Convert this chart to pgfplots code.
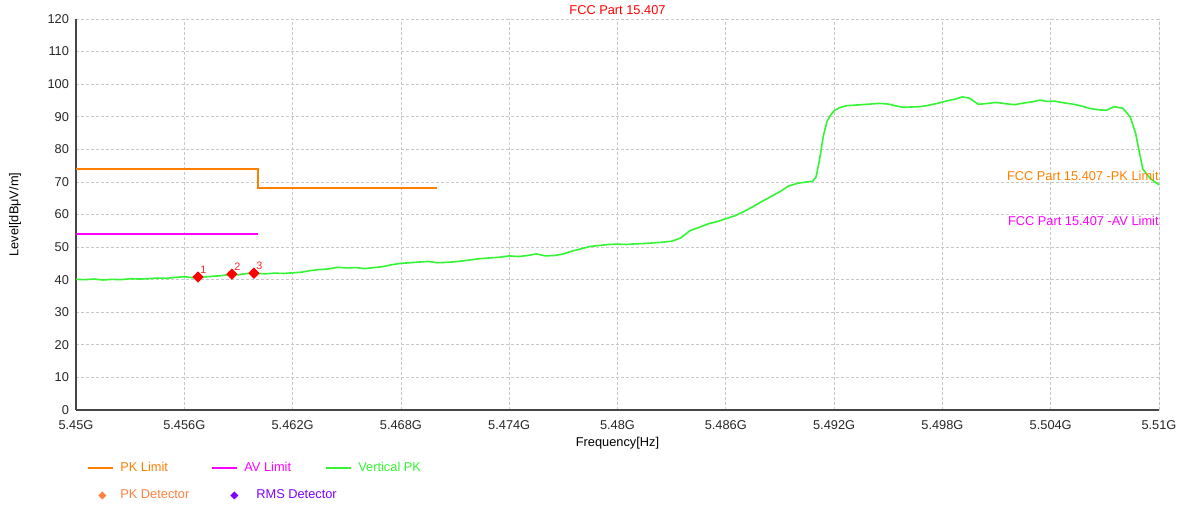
\documentclass[border=0pt]{standalone}
\usepackage{fontspec}
\setmainfont{Liberation Sans}
\usepackage{pgfplots}
\pgfplotsset{compat=1.18}
\definecolor{pkor}{RGB}{255,128,0}
\definecolor{avmag}{RGB}{255,0,255}
\definecolor{vgreen}{RGB}{51,245,51}
\definecolor{pkdet}{RGB}{255,128,64}
\definecolor{rmsdet}{RGB}{128,0,255}
\definecolor{gridc}{RGB}{200,200,200}
\definecolor{axc}{RGB}{70,70,70}
\definecolor{mkred}{RGB}{255,0,0}
\begin{document}
\begin{tikzpicture}
\path[use as bounding box] (-38pt,-47pt) rectangle (554pt,205pt);
\begin{axis}[
  scale only axis, width=541.5pt, height=195.5pt,
  xmin=5450, xmax=5510, ymin=0, ymax=120,
  axis x line*=bottom, axis y line*=left,
  axis line style={-, axc, line width=0.75pt},
  xtick={5450,5456,5462,5468,5474,5480,5486,5492,5498,5504,5510},
  xticklabels={5.45G,5.456G,5.462G,5.468G,5.474G,5.48G,5.486G,5.492G,5.498G,5.504G,5.51G},
  ytick={0,10,...,120},
  major tick length=0pt,
  grid=major,
  major grid style={gridc, dash pattern=on 1.5pt off 1pt, line width=0.4pt},
  /pgf/number format/assume math mode=true,
  tick label style={font=\fontsize{6.4}{8}\selectfont, text=black!85},
  xticklabel style={yshift=-1.5pt},
  xlabel={Frequency[Hz]},
  ylabel={Level[dBμV/m]},
  every axis x label/.style={at={(axis description cs:0.5,-0.0844)}, anchor=center, font=\fontsize{6.4}{8}\selectfont},
  every axis y label/.style={at={(axis description cs:-0.0563,0.5)}, rotate=90, anchor=center, font=\fontsize{6.4}{8}\selectfont},
  title={FCC Part 15.407},
  every axis title/.style={at={(axis description cs:0.5,1)}, anchor=center, yshift=4.5pt, font=\fontsize{6.4}{8}\selectfont, text=mkred},
  legend columns=3,
  legend style={at={(axis description cs:0.0046,-0.112)}, anchor=north west, draw=none, fill=none,
    font=\fontsize{6.4}{8}\selectfont, row sep=3.5pt,
    /tikz/every even column/.append style={column sep=0pt},
    /tikz/every odd column/.append style={column sep=0pt}},
  legend cell align=left,
  legend image code/.code={\draw[#1, line width=1pt] (0pt,0pt) -- (12.5pt,0pt);},
]
\addplot[pkor, line width=1pt] coordinates {(5450,74) (5460.1,74) (5460.1,68) (5470,68)};
\addlegendentry{\makebox[44.5pt][l]{\hspace{1pt}\textcolor{pkor}{PK Limit}}}
\addplot[avmag, line width=1pt] coordinates {(5450,54) (5460.1,54)};
\addlegendentry{\makebox[39.5pt][l]{\hspace{1pt}\textcolor{avmag}{AV Limit}}}
\addplot[vgreen, line width=0.8pt] coordinates {
(5450,40.1) (5450.5,40.0) (5451,40.2) (5451.5,39.9) (5452,40.1) (5452.5,40.0) (5453,40.3) (5453.5,40.2)
(5454,40.3) (5454.5,40.5) (5455,40.4) (5455.5,40.7) (5456,40.9) (5456.5,40.6) (5456.76,40.8) (5457,40.8) (5457.5,41.0)
(5458,41.2) (5458.64,41.7) (5459,41.5) (5459.5,41.9) (5459.86,42.0) (5460.5,41.8) (5461,42.0) (5461.5,41.9)
(5462,42.1) (5462.5,42.3) (5463,42.8) (5463.5,43.1) (5464,43.3) (5464.5,43.8) (5465,43.6) (5465.5,43.7)
(5466,43.4) (5466.5,43.7) (5467,44.0) (5467.5,44.6) (5468,45.0) (5468.5,45.2) (5469,45.4) (5469.5,45.6)
(5470,45.2) (5470.5,45.3) (5471,45.5) (5471.5,45.8) (5472,46.2) (5472.5,46.5) (5473,46.7) (5473.5,46.9)
(5474,47.3) (5474.5,47.1) (5475,47.4) (5475.5,47.9) (5476,47.3) (5476.5,47.4) (5477,47.9) (5477.5,48.8)
(5478,49.5) (5478.5,50.2) (5479,50.5) (5479.5,50.8) (5480,50.9) (5480.5,50.8) (5481,51.0) (5481.5,51.1)
(5482,51.3) (5482.5,51.5) (5483,51.8) (5483.5,52.8) (5484,55.0) (5484.5,56.0) (5485,57.1) (5485.5,57.8)
(5486,58.7) (5486.5,59.6) (5487,60.9) (5487.5,62.4) (5488,64.0) (5488.5,65.5) (5489,67.0) (5489.5,68.8)
(5490,69.6) (5490.5,70.0) (5490.8,70.2) (5491.0,71.5) (5491.2,77) (5491.4,84) (5491.6,88.5) (5491.8,90.5)
(5492.0,91.8) (5492.3,92.8) (5492.7,93.4) (5493,93.5) (5493.5,93.7) (5494,93.9) (5494.5,94.1) (5495,93.9)
(5495.3,93.5) (5495.8,92.9) (5496.3,93.0) (5496.8,93.1) (5497.3,93.6) (5497.8,94.2) (5498.2,94.8) (5498.7,95.4)
(5499.1,96.1) (5499.5,95.7) (5500,93.8) (5500.5,94.1) (5501,94.4) (5501.5,94.0) (5502,93.7) (5502.5,94.2)
(5503,94.6) (5503.4,95.1) (5503.8,94.7) (5504.2,94.8) (5504.7,94.3) (5505.2,93.9) (5505.7,93.3) (5506.2,92.5)
(5506.7,92.1) (5507.1,92.0) (5507.5,93.1) (5508,92.6) (5508.4,90.0) (5508.7,85.0) (5508.9,79.5) (5509.1,74.0)
(5509.5,71.1) (5510,69.1)};
\addlegendentry{\hspace{1pt}\textcolor{vgreen}{Vertical PK}}
\addlegendimage{legend image code/.code={\draw[pkdet, fill=pkdet] plot[only marks, mark=square*, mark size=1.2pt, mark options={rotate=45}] coordinates {(7pt,0pt)};}}
\addlegendentry{\makebox[44.5pt][l]{\hspace{1pt}\textcolor{pkdet}{PK Detector}}}
\addlegendimage{legend image code/.code={\draw[rmsdet, fill=rmsdet] plot[only marks, mark=square*, mark size=1.2pt, mark options={rotate=45}] coordinates {(11pt,0pt)};}}
\addlegendentry{\makebox[39.5pt][l]{\hspace{7pt}\textcolor{rmsdet}{RMS Detector}}}
\addplot[forget plot, only marks, mark=square*, mark size=1.8pt, mark options={rotate=45}, mkred,
  point meta=explicit symbolic,
  nodes near coords,
  nodes near coords style={anchor=south west, xshift=0pt, yshift=0.5pt, font=\fontsize{5.4}{6}\selectfont, text=mkred!85!white, inner sep=1pt}]
  table[meta=lab] {
x y lab
5456.76 40.8 1
5458.64 41.7 2
5459.86 42.0 3
};
\draw[gridc!80!black, line width=0.5pt] (rel axis cs:1,0) -- (rel axis cs:1,1);
\node[anchor=east, inner sep=0pt, text=pkor, font=\fontsize{6.4}{8}\selectfont] at (axis cs:5510,71.8) {FCC Part 15.407 -PK Limit};
\node[anchor=east, inner sep=0pt, text=avmag, font=\fontsize{6.4}{8}\selectfont] at (axis cs:5510,58.0) {FCC Part 15.407 -AV Limit};
\end{axis}
\end{tikzpicture}
\end{document}
